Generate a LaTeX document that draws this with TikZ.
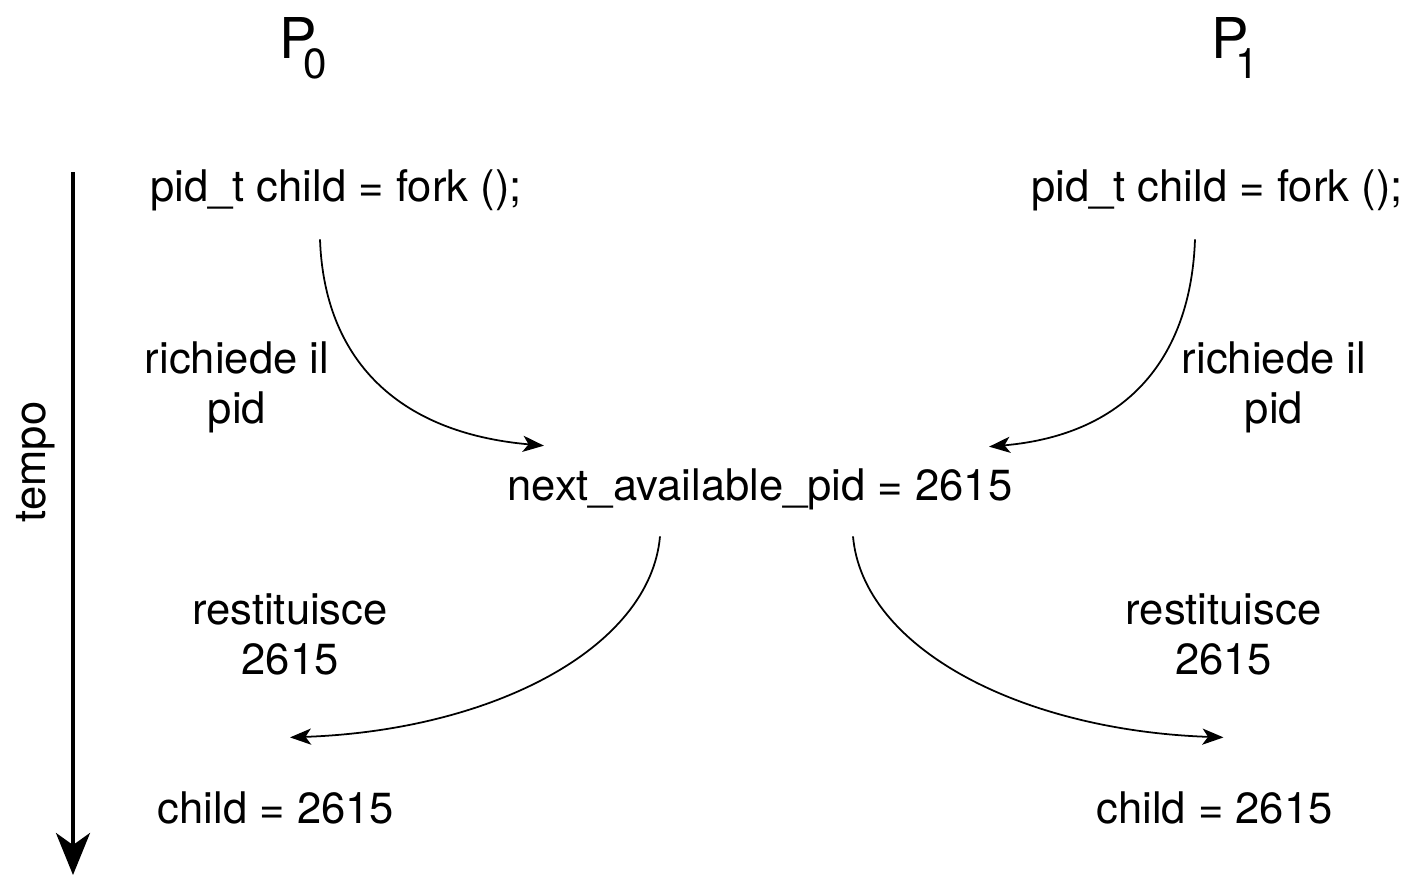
\documentclass[tikz,border=0pt]{standalone}
\usepackage{fontspec}
\setmainfont{TeX Gyre Heros}
\usepackage{tikz}
\usetikzlibrary{arrows.meta}

\begin{document}
\begin{tikzpicture}[font=\fontsize{12.4}{14.2}\selectfont, inner sep=0pt,
    lbl/.style={align=center},
    pidarrow/.style={-{Stealth[length=6pt, width=4.6pt, inset=1.6pt]}, line width=0.5pt},
    timearrow/.style={-{Stealth[length=0.42cm, width=0.34cm, inset=0.12cm]}, line width=1.1pt}]
    \useasboundingbox (0,0) rectangle (14.11,-8.77);
    \node (p0) at (3.03,-0.48) {\fontsize{16}{16}\selectfont P\kern-3.7pt\raisebox{-5.7pt}{\fontsize{12}{12}\selectfont 0}};
    \node (p1) at (12.35,-0.48) {\fontsize{16}{16}\selectfont P\kern-3.7pt\raisebox{-5.7pt}{\fontsize{12}{12}\selectfont 1}};
    \node (fork0) at (3.36,-1.90) {pid\_t child = fork ();};
    \node (fork1) at (12.17,-1.90) {pid\_t child = fork ();};
    \node[lbl] (req0) at (2.37,-3.87) {richiede il\\pid};
    \node[lbl] (req1) at (12.74,-3.87) {richiede il\\pid};
    \node (next) at (7.60,-4.89) {next\_available\_pid = 2615};
    \node[lbl] (ret0) at (2.90,-6.34) {restituisce\\2615};
    \node[lbl] (ret1) at (12.235,-6.34) {restituisce\\2615};
    \node (child0) at (2.76,-8.08) {child = 2615};
    \node (child1) at (12.145,-8.08) {child = 2615};
    \node[rotate=90] (tempo) at (0.36,-4.62) {tempo};
    \coordinate (tstart) at (0.73,-1.72);
    \coordinate (tend) at (0.73,-8.75);
    \draw[timearrow] (tstart) -- (tend);
    \draw[pidarrow] ([shift={(-0.16,-0.28)}]fork0.south) to[out=-88, in=175, out looseness=1, in looseness=1.25] ([shift={(0.37,0.22)}]next.north west);
    \draw[pidarrow] ([shift={(-0.22,-0.28)}]fork1.south) to[out=-92, in=5, out looseness=1, in looseness=1.25] ([shift={(-0.24,0.21)}]next.north east);
    \draw[pidarrow] ([shift={(-1.00,-0.26)}]next.south) to[out=-95, in=2, out looseness=0.68, in looseness=1.23] ([shift={(0,-0.62)}]ret0.south);
    \draw[pidarrow] ([shift={(0.93,-0.26)}]next.south) to[out=-85, in=178, out looseness=0.68, in looseness=1.23] ([shift={(0,-0.62)}]ret1.south);
\end{tikzpicture}
\end{document}
